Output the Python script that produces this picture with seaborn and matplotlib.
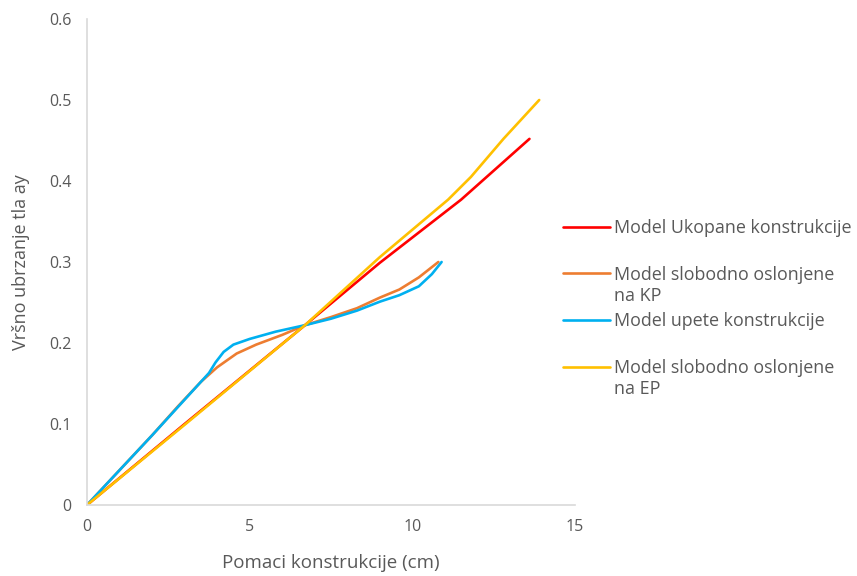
import numpy as np
import pandas as pd
import seaborn as sns
import matplotlib.pyplot as plt

#############################
#   Data
#############################

series_names = [
    "Model Ukopane konstrukcije",
    "Model slobodno oslonjene\nna KP",
    "Model upete konstrukcije",
    "Model slobodno oslonjene\nna EP",
]
series_colors = ["#FF0000", "#ED7D31", "#00B0F0", "#FFC000"]

ukopane_x = [0, 3.0, 6.7, 9.0, 11.5, 13.6]
ukopane_y = [0, 0.100, 0.222, 0.299, 0.377, 0.452]

kp_x = [0, 1.0, 2.0, 2.8, 3.5, 4.0, 4.6, 5.2, 6.0, 6.7, 7.5, 8.3, 9.0, 9.6, 10.2, 10.8]
kp_y = [0, 0.043, 0.086, 0.122, 0.152, 0.170, 0.187, 0.198, 0.210, 0.222, 0.232, 0.243, 0.256, 0.266, 0.281, 0.300]

upete_x = [0, 1.0, 2.0, 3.0, 3.75, 3.95, 4.2, 4.5, 5.0, 5.8, 6.7, 7.5, 8.3, 9.0, 9.6, 10.2, 10.6, 10.9]
upete_y = [0, 0.043, 0.086, 0.130, 0.163, 0.176, 0.189, 0.198, 0.205, 0.214, 0.222, 0.230, 0.240, 0.251, 0.259, 0.270, 0.285, 0.300]

ep_x = [0, 3.0, 6.7, 9.0, 11.1, 11.8, 12.8, 13.9]
ep_y = [0, 0.099, 0.222, 0.306, 0.377, 0.405, 0.452, 0.500]

x_ticks = [0, 5, 10, 15]
y_ticks = [0, 0.1, 0.2, 0.3, 0.4, 0.5, 0.6]
y_tick_labels = ["0", "0.1", "0.2", "0.3", "0.4", "0.5", "0.6"]

#############################
#           Plot
#############################

frames = []
for name, xs, ys in zip(series_names,
                        [ukopane_x, kp_x, upete_x, ep_x],
                        [ukopane_y, kp_y, upete_y, ep_y]):
    frames.append(pd.DataFrame({"x": xs, "y": ys, "model": name}))
df = pd.concat(frames, ignore_index=True)

sns.set_theme(style="white")
plt.rcParams["font.family"] = ["Open Sans", "DejaVu Sans"]
text_gray = "#595959"
axis_gray = "#D9D9D9"

fig = plt.figure(figsize=(8.57, 5.76), dpi=100)
ax = fig.add_axes([87 / 857, 71 / 576, 488 / 857, 486 / 576])

sns.lineplot(data=df, x="x", y="y", hue="model", hue_order=series_names,
             palette=series_colors, sort=False, estimator=None,
             linewidth=1.9, ax=ax, legend=True)

ax.set_xlim(0, 15)
ax.set_ylim(0, 0.6)
ax.set_xticks(x_ticks)
ax.set_xticklabels([str(t) for t in x_ticks])
ax.set_yticks(y_ticks)
ax.set_yticklabels(y_tick_labels)
ax.tick_params(axis="both", length=0, labelsize=11.5, labelcolor=text_gray)
ax.tick_params(axis="y", pad=11)
ax.tick_params(axis="x", pad=10)
ax.set_xlabel("Pomaci konstrukcije (cm)", fontsize=13.5, color=text_gray, labelpad=14)
ax.set_ylabel("Vršno ubrzanje tla ay", fontsize=13, color=text_gray, labelpad=14)

sns.despine(ax=ax)
for side in ["left", "bottom"]:
    ax.spines[side].set_color(axis_gray)
    ax.spines[side].set_linewidth(1.2)

# legend: first lines in the legend, second lines added under them
handles, labels = ax.get_legend_handles_labels()
ax.get_legend().remove()
first_lines = [lab.split("\n")[0] for lab in labels]
leg = fig.legend(handles, first_lines, loc="upper left",
                 bbox_to_anchor=(563 / 857, 1 - 219 / 576),
                 frameon=False, fontsize=12.9, handlelength=2.6,
                 handletextpad=0.25, labelspacing=1.6, borderpad=0,
                 borderaxespad=0)
fig.canvas.draw()
for text, lab in zip(leg.get_texts(), labels):
    text.set_color(text_gray)
    if "\n" in lab:
        ax.annotate(lab.split("\n")[1], xy=(0, 0), xycoords=text,
                    xytext=(0, -3), textcoords="offset pixels",
                    va="top", ha="left", fontsize=12.9, color=text_gray,
                    annotation_clip=False)

fig.savefig("out.png", dpi=100)
